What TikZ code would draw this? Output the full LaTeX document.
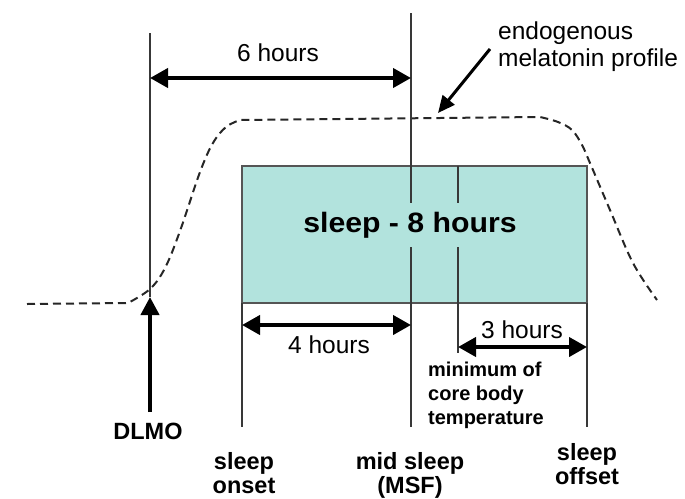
\documentclass[tikz,border=0pt]{standalone}
\usepackage{fontspec}
\setmainfont{Liberation Sans}
\newfontfamily\widesans[FakeStretch=1.08]{Liberation Sans}
\usetikzlibrary{arrows.meta}
\definecolor{sleepfill}{HTML}{B2E3DD}
\definecolor{linegray}{HTML}{383838}
\definecolor{boxgray}{HTML}{555555}
\begin{document}
\begin{tikzpicture}[x=1pt,y=-1pt,
  thinline/.style={draw=linegray,line width=1.2pt},
  dimarrow/.style={draw=black,line width=4pt,{Triangle[length=18pt,width=19pt]}-{Triangle[length=18pt,width=19pt]}},
  uparrow/.style={draw=black,line width=4pt,-{Triangle[length=18pt,width=18pt]}},
  ptrarrow/.style={draw=black,line width=3pt,-{Triangle[length=17pt,width=15pt]}},
  profile/.style={draw=black!85,line width=2pt,dash pattern=on 8pt off 5pt},
  sleepbox/.style={draw=boxgray,line width=1.2pt,fill=sleepfill,minimum width=345pt,minimum height=137pt,inner sep=0pt},
  regtext/.style={font=\fontsize{24.5}{27}\selectfont,inner sep=0pt},
  boldtext/.style={font=\bfseries\fontsize{23.5}{24}\selectfont,inner sep=0pt,align=center},
  smallbold/.style={font=\bfseries\fontsize{20}{24}\selectfont,inner sep=0pt,align=left}
]
\useasboundingbox (0,0) rectangle (685,498);

% sleep box
\node[sleepbox] (box) at (414.5,234.5) {};

% dashed melatonin profile
\draw[profile] (27,304) -- (128,303)
  -- plot[smooth,tension=0.6] coordinates {(128,303) (150,289) (165,268) (180,231) (200,172) (213,143) (226,127) (240,120)}
  -- (540,117)
  -- plot[smooth,tension=0.6] coordinates {(540,117) (558,122) (572,130) (582,145) (590,163) (610,210) (633,263) (657,300)};

% coordinates for vertical lines
\coordinate (dlmoTop) at (150,33);
\coordinate (dlmoBot) at (150,297);
\coordinate (midTop) at (411,13);
\coordinate (midBot) at (411,427);
\coordinate (onsetTop) at (242,303);
\coordinate (onsetBot) at (242,427);
\coordinate (offTop) at (587,303);
\coordinate (offBot) at (587,427);
\coordinate (minTop) at (458,166);
\coordinate (minBot) at (458,353);

\draw[thinline] (dlmoTop) -- (dlmoBot);
\draw[thinline] (midTop) -- (midBot);
\draw[thinline] (onsetTop) -- (onsetBot);
\draw[thinline] (offTop) -- (offBot);
\draw[thinline] (minTop) -- (minBot);

% box title covering lines
\node[fill=sleepfill,font=\widesans\bfseries\fontsize{28}{30}\selectfont,inner xsep=2pt,inner ysep=9pt] (title) at (410,225) {sleep - 8 hours};

% dimension arrows
\coordinate (sixL) at (150,78);
\coordinate (sixR) at (411,78);
\coordinate (fourL) at (242,325);
\coordinate (fourR) at (411,325);
\coordinate (threeL) at (458,347);
\coordinate (threeR) at (587,347);
\draw[dimarrow] (sixL) -- (sixR);
\draw[dimarrow] (fourL) -- (fourR);
\draw[dimarrow] (threeL) -- (threeR);

\node[regtext] (six) at (278,53) {6 hours};
\node[regtext] (four) at (329,345) {4 hours};
\node[regtext] (three) at (522,330) {3 hours};

% melatonin label and pointer
\node[regtext,align=left,anchor=north west] (melat) at (498,22) {endogenous\\melatonin profile};
\coordinate (ptrStart) at (490,49);
\coordinate (ptrEnd) at (438,113);
\draw[ptrarrow] (ptrStart) -- (ptrEnd);

% DLMO
\node[boldtext] (dlmo) at (148,431) {DLMO};
\coordinate (dlmoArrowStart) at (150,412);
\draw[uparrow] (dlmoArrowStart) -- (dlmoBot);

% minimum of core body temperature
\node[smallbold,anchor=north west] (mintemp) at (428,362) {minimum of\\core body\\temperature};

% bottom labels
\node[boldtext,anchor=north] (onset) at (244,452) {sleep\\onset};
\node[boldtext,anchor=north] (mid) at (410,452) {mid sleep\\(MSF)};
\node[boldtext,anchor=north] (offset) at (587,443) {sleep\\offset};
\end{tikzpicture}
\end{document}
